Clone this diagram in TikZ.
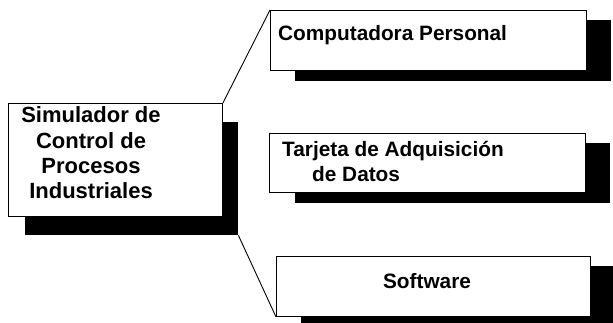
\documentclass[tikz,border=0pt]{standalone}
\usepackage{fontspec}
\setmainfont{Liberation Sans}
\begin{document}
\begin{tikzpicture}[x=1pt,y=-1pt,
  shadowbox/.style={fill=black,draw=none,inner sep=0pt,anchor=north west},
  framebox/.style={fill=white,draw=black,line width=0.9pt,inner sep=0pt,anchor=north west},
  lbl/.style={font=\bfseries\fontsize{20.8}{25}\selectfont,inner sep=0pt},
  mainlbl/.style={font=\bfseries\fontsize{22}{25.3}\selectfont,inner sep=0pt,align=center},
  conn/.style={draw=black,line width=0.9pt}]
\useasboundingbox (0,0) rectangle (613,323);
\clip (0,0) rectangle (613,323);
% main box
\node[shadowbox,minimum width=213pt,minimum height=113pt] (ms) at (25,122) {};
\node[framebox,minimum width=214pt,minimum height=113pt] (m) at (8,103) {};
\node[mainlbl] (mt) at (91,153) {Simulador de\\Control de\\Procesos\\Industriales};
% box 1
\node[shadowbox,minimum width=316pt,minimum height=61pt] (s1) at (295,20) {};
\node[framebox,minimum width=316pt,minimum height=60pt] (b1) at (270,10) {};
\node[lbl,anchor=base west] (t1) at (278,41) {Computadora Personal};
% box 2
\node[shadowbox,minimum width=315pt,minimum height=60pt] (s2) at (295,143) {};
\node[framebox,minimum width=316pt,minimum height=59pt] (b2) at (269,133) {};
\node[lbl,anchor=base west] (t2a) at (282,157) {Tarjeta de Adquisición};
\node[lbl,anchor=base west] (t2b) at (312,182) {de Datos};
% box 3
\node[shadowbox,minimum width=330pt,minimum height=60pt] (s3) at (301,266) {};
\node[framebox,minimum width=314pt,minimum height=60pt] (b3) at (276,256) {};
\node[lbl,anchor=base] (t3) at (427,288) {Software};
% connectors
\draw[conn] (m.north east) -- (b1.north west);
\draw[conn] (ms.south east) -- (b3.south west);
\end{tikzpicture}
\end{document}
